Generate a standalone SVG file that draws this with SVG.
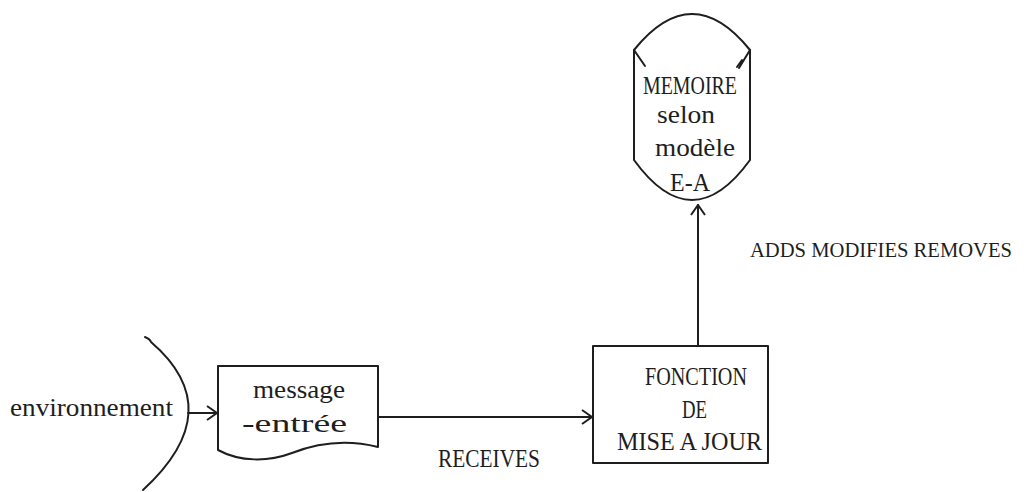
<svg xmlns="http://www.w3.org/2000/svg" width="1024" height="492" viewBox="0 0 1024 492">
<defs>
<style>
.ln{fill:none;stroke:#1e1e1e;stroke-width:2;stroke-linecap:round;stroke-linejoin:round}
.t{font-family:"Liberation Serif",serif;font-size:25px;fill:#1e1e1e}
.s{font-size:20px}
</style>
<marker id="ah" viewBox="0 0 12 16" refX="11" refY="8" markerWidth="12" markerHeight="16" markerUnits="userSpaceOnUse" orient="auto">
<path d="M1,1 L11,8 L1,15" fill="none" stroke="#1e1e1e" stroke-width="2"/>
</marker>
</defs>
<rect width="1024" height="492" fill="#ffffff"/>
<g id="environnement">
<path class="ln" d="M145,337 Q150,339 151,342 Q230,410 143,490"/>
<text class="t" x="10" y="416" textLength="163" lengthAdjust="spacingAndGlyphs">environnement</text>
</g>
<g id="message-entree">
<path class="ln" d="M218,366 H378 V447 C350,440 320,442 292,453 C268,462 240,462 218,450 Z"/>
<text class="t" x="253" y="398" textLength="92" lengthAdjust="spacingAndGlyphs">message</text>
<text class="t" x="242" y="432" textLength="105" lengthAdjust="spacingAndGlyphs">-entrée</text>
</g>
<g id="fonction">
<rect class="ln" x="593" y="346" width="175" height="117"/>
<text class="t" x="645" y="385" textLength="102" lengthAdjust="spacingAndGlyphs">FONCTION</text>
<text class="t" x="682" y="418" textLength="25" lengthAdjust="spacingAndGlyphs">DE</text>
<text class="t" x="617" y="450" textLength="145" lengthAdjust="spacingAndGlyphs">MISE A JOUR</text>
</g>
<g id="memoire">
<path class="ln" d="M634,50 Q692,-22 750,50 V160 Q692,240 634,160 Z"/>
<path class="ln" d="M634,50 L645,66"/>
<path class="ln" d="M750,50 L739,68 M742,60 L737,67"/>
<text class="t" x="643" y="94" textLength="94" lengthAdjust="spacingAndGlyphs">MEMOIRE</text>
<text class="t" x="657" y="123" textLength="58" lengthAdjust="spacingAndGlyphs">selon</text>
<text class="t" x="655" y="156" textLength="80" lengthAdjust="spacingAndGlyphs">modèle</text>
<text class="t" x="670" y="191" textLength="40" lengthAdjust="spacingAndGlyphs">E-A</text>
</g>
<g id="connectors">
<line class="ln" x1="188" y1="413" x2="217" y2="413" marker-end="url(#ah)"/>
<line class="ln" x1="378" y1="417" x2="592" y2="417" marker-end="url(#ah)"/>
<line class="ln" x1="698" y1="346" x2="698" y2="205" marker-end="url(#ah)"/>
<text class="t" x="438" y="467" textLength="102" lengthAdjust="spacingAndGlyphs">RECEIVES</text>
<text class="t s" x="750" y="257" textLength="262" lengthAdjust="spacingAndGlyphs">ADDS MODIFIES REMOVES</text>
</g>
</svg>
